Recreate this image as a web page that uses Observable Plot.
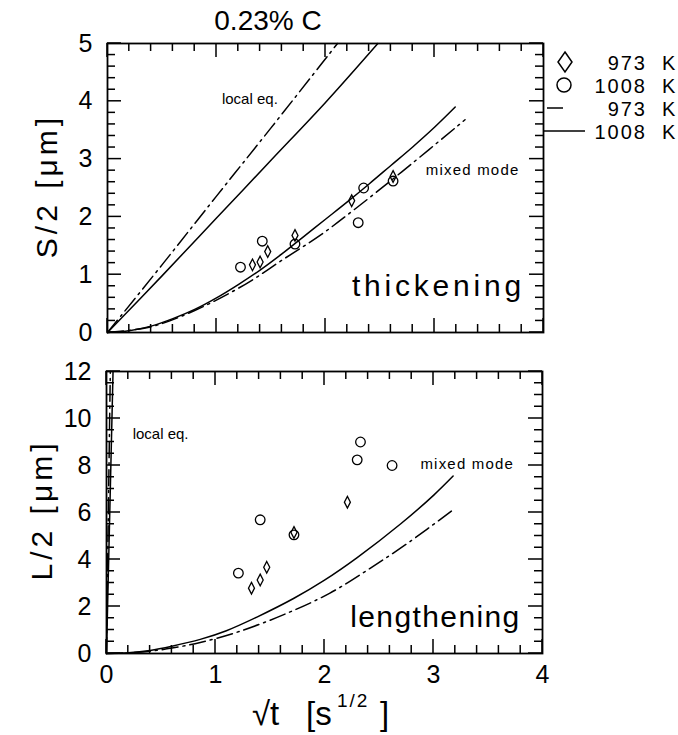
<!DOCTYPE html>
<html><head><meta charset="utf-8">
<script src="https://cdn.jsdelivr.net/npm/d3@7"></script>
<script src="https://cdn.jsdelivr.net/npm/@observablehq/plot@0.6"></script>
<style>
body{margin:0;background:#fff;}
#wrap{position:relative;width:678px;height:735px;background:#fff;font-family:"Liberation Sans",Arial,sans-serif;}
#wrap > * {position:absolute;left:0;}
</style></head><body><div id="wrap"></div>
<script>
// ---------- data ----------
const xMajorTicks = [0, 1, 2, 3, 4];
const sMajorTicks = [0, 1, 2, 3, 4, 5];
const lMajorTicks = [0, 2, 4, 6, 8, 10, 12];
const chartTitle = "0.23% C";
const legendTemps = ["973", "1008", "973", "1008"];

// thickening (S/2) model curves [sqrt(t), S/2]
const thickLocal1008 = [[0,0],[0.5,0.98],[1,1.98],[1.5,2.98],[2,3.98],[2.48,5]];
const thickLocal973  = [[0,0],[0.5,1.17],[1,2.36],[1.5,3.54],[2.11,5]];
const thickMixed1008 = [[0,0],[0.2,0.03],[0.4,0.11],[0.6,0.24],[0.8,0.4],[1.0,0.6],[1.2,0.83],[1.4,1.08],[1.6,1.36],[1.8,1.66],[2.0,1.96],[2.2,2.26],[2.4,2.57],[2.6,2.89],[2.8,3.21],[3.0,3.55],[3.19,3.9]];
const thickMixed973  = [[0,0],[0.4,0.1],[0.8,0.38],[1.26,0.83],[1.6,1.25],[1.95,1.68],[2.28,2.15],[2.7,2.78],[3.28,3.68]];
// thickening measurements
const thickCircles1008 = [[1.22,1.13],[1.42,1.58],[1.72,1.53],[2.30,1.9],[2.35,2.5],[2.62,2.62]];
const thickDiamonds973 = [[1.33,1.17],[1.40,1.22],[1.47,1.4],[1.72,1.68],[2.24,2.28],[2.62,2.7]];

// lengthening (L/2) model curves
const lengthLocal1008 = [[0,0],[0.01,2],[0.03,6],[0.06,12]];
const lengthLocal973  = [[0,0],[0.008,3],[0.02,7],[0.035,12]];
const lengthMixed1008 = [[0,0],[0.2,0.03],[0.4,0.13],[0.6,0.31],[0.86,0.6],[1.1,0.97],[1.38,1.55],[1.72,2.35],[2.0,3.12],[2.3,4.08],[2.7,5.52],[3.0,6.73],[3.18,7.55]];
const lengthMixed973  = [[0,0],[0.2,0.03],[0.4,0.1],[0.6,0.23],[0.86,0.47],[1.22,0.94],[1.65,1.7],[2.05,2.57],[2.41,3.6],[2.78,4.75],[3.17,6.08]];
// lengthening measurements
const lengthCircles1008 = [[1.21,3.42],[1.41,5.69],[1.72,5.05],[2.30,8.24],[2.33,9.0],[2.62,8.0]];
const lengthDiamonds973 = [[1.33,2.78],[1.41,3.13],[1.47,3.67],[1.72,5.15],[2.21,6.44]];

// annotations [x, y, text, anchor, size, letterSpacing]
const thickNotes = [[1.05,4.03,"local eq.","start",15,0],[2.92,2.81,"mixed mode","start",15,1.2],[3.83,0.8,"thickening","end",30,3.8]];
const lengthNotes = [[0.24,9.32,"local eq.","start",15,0],[2.88,8.04,"mixed mode","start",15,1.2],[3.8,1.55,"lengthening","end",30,1.4]];

// ---------- helpers ----------
const FONT = '"Liberation Sans", Arial, sans-serif';
const DASH = "16,5,2,5";
const tallDiamond = {
  draw(ctx, size) {
    const r = Math.sqrt(size / Math.PI);
    const w = r * 0.7, h = r * 1.35;
    ctx.moveTo(0, -h); ctx.lineTo(w, 0); ctx.lineTo(0, h); ctx.lineTo(-w, 0); ctx.closePath();
  }
};
function minorTicks(step, max, majors) {
  const out = [];
  for (let i = 0; i * step <= max + 1e-9; i++) {
    const v = Math.round(i * step * 1000) / 1000;
    if (majors.indexOf(v) < 0) out.push(v);
  }
  return out;
}
function curves(solidA, dashA, solidB, dashB) {
  const o = {x: d => d[0], y: d => d[1], stroke: "black", strokeWidth: 1.5, curve: "catmull-rom"};
  return [
    Plot.line(solidA, o), Plot.line(solidB, o),
    Plot.line(dashA, {...o, strokeDasharray: DASH}), Plot.line(dashB, {...o, strokeDasharray: DASH})
  ];
}
function points(circ, diam) {
  return [
    Plot.dot(circ, {x: d => d[0], y: d => d[1], r: 4.8, stroke: "black", strokeWidth: 1.3, fill: "none"}),
    Plot.dot(diam, {x: d => d[0], y: d => d[1], r: 4.3, symbol: tallDiamond, stroke: "black", strokeWidth: 1.3, fill: "none"})
  ];
}
function notes(arr) {
  return arr.map(n => Plot.text([n], {x: d => d[0], y: d => d[1], text: d => d[2], textAnchor: n[3], fontSize: n[4], fill: "black", fontFamily: FONT}));
}
function spaceNotes(svg, arr) {
  arr.forEach(n => {
    d3.select(svg).selectAll("text").filter(function () { return this.textContent === n[2]; })
      .attr("letter-spacing", n[5]);
  });
}

const wrap = document.getElementById("wrap");
const xMinor = minorTicks(0.2, 4, xMajorTicks);
const sMinor = minorTicks(0.2, 5, sMajorTicks);
const lMinor = minorTicks(0.5, 12, lMajorTicks);

// ---------- top panel ----------
const topPlot = Plot.plot({
  width: 678, height: 345,
  marginTop: 43, marginBottom: 13, marginLeft: 107, marginRight: 135,
  style: {fontFamily: FONT, background: "transparent", color: "black"},
  x: {domain: [0, 4], axis: null},
  y: {domain: [0, 5], axis: null},
  marks: [
    Plot.frame({stroke: "black", strokeWidth: 1.8}),
    Plot.axisY({ticks: sMajorTicks, tickSize: 0, tickPadding: 15, fontSize: 25, tickFormat: d => String(d), label: null}),
    ...curves(thickLocal1008, thickLocal973, thickMixed1008, thickMixed973),
    ...points(thickCircles1008, thickDiamonds973),
    ...notes(thickNotes)
  ]
});
spaceNotes(topPlot, thickNotes);
topPlot.style.top = "0px";
wrap.appendChild(topPlot);

// ---------- bottom panel ----------
const botPlot = Plot.plot({
  width: 678, height: 385,
  marginTop: 21, marginBottom: 82, marginLeft: 106, marginRight: 136,
  style: {fontFamily: FONT, background: "transparent", color: "black"},
  x: {domain: [0, 4], axis: null},
  y: {domain: [0, 12], axis: null},
  marks: [
    Plot.frame({stroke: "black", strokeWidth: 1.8}),
    Plot.axisY({ticks: lMajorTicks, tickSize: 0, tickPadding: 15, fontSize: 25, tickFormat: d => String(d), label: null}),
    Plot.axisX({ticks: xMajorTicks, tickSize: 0, tickPadding: 12, fontSize: 25, tickFormat: d => String(d), label: null}),
    ...curves(lengthLocal1008, lengthLocal973, lengthMixed1008, lengthMixed973),
    ...points(lengthCircles1008, lengthDiamonds973),
    ...notes(lengthNotes)
  ]
});
spaceNotes(botPlot, lengthNotes);
botPlot.style.top = "350px";
wrap.appendChild(botPlot);

// ---------- overlay: inward frame ticks (placed with the plots' own scales), titles, legend ----------
const ov = d3.create("svg").attr("width", 678).attr("height", 735)
  .style("top", "0px").style("pointer-events", "none")
  .attr("font-family", FONT);

function drawTicks(plot, offsetY, frameBox, xMaj, xMin, yMaj, yMin) {
  const sx = plot.scale("x"), sy = plot.scale("y");
  const fx = v => (sx && typeof sx.apply === "function") ? sx.apply(v) : frameBox.x0 + (frameBox.x1 - frameBox.x0) * v / frameBox.xMax;
  const fy = v => (sy && typeof sy.apply === "function") ? sy.apply(v) : frameBox.y0 - (frameBox.y0 - frameBox.y1) * v / frameBox.yMax;
  const g = ov.append("g").attr("fill", "black");
  const x0 = frameBox.x0, x1 = frameBox.x1, y0 = frameBox.y0 + offsetY, y1 = frameBox.y1 + offsetY;
  const tw = 1.5;
  for (const [vals, len] of [[xMaj, 14], [xMin, 8]]) for (const v of vals) {
    const X = fx(v);
    g.append("rect").attr("x", X - tw / 2).attr("y", y0 - len).attr("width", tw).attr("height", len);
    g.append("rect").attr("x", X - tw / 2).attr("y", y1).attr("width", tw).attr("height", len);
  }
  for (const [vals, len] of [[yMaj, 14], [yMin, 8]]) for (const v of vals) {
    const Y = fy(v) + offsetY;
    g.append("rect").attr("x", x0).attr("y", Y - tw / 2).attr("width", len).attr("height", tw);
    g.append("rect").attr("x", x1 - len).attr("y", Y - tw / 2).attr("width", len).attr("height", tw);
  }
}
drawTicks(topPlot, 0, {x0: 107, x1: 543, y0: 332, y1: 43, xMax: 4, yMax: 5}, xMajorTicks, xMinor, sMajorTicks, sMinor);
drawTicks(botPlot, 350, {x0: 106, x1: 542, y0: 303, y1: 21, xMax: 4, yMax: 12}, xMajorTicks, xMinor, lMajorTicks, lMinor);

ov.append("text").attr("x", 268).attr("y", 30).attr("text-anchor", "middle").attr("font-size", 28).text(chartTitle);

// y-axis titles
ov.append("text").attr("transform", "translate(57,186) rotate(-90)").attr("text-anchor", "middle")
  .attr("font-size", 30).attr("letter-spacing", 4).text("S/2  [μm]");
ov.append("text").attr("transform", "translate(52,510) rotate(-90)").attr("text-anchor", "middle")
  .attr("font-size", 30).attr("letter-spacing", 4).text("L/2  [μm]");

// x-axis title
ov.append("text").attr("x", 252).attr("y", 725).attr("font-size", 33).text("√t");
ov.append("text").attr("x", 306).attr("y", 725).attr("font-size", 33).text("[s");
ov.append("text").attr("x", 337).attr("y", 707).attr("font-size", 19).attr("letter-spacing", 2).text("1/2");
ov.append("text").attr("x", 380).attr("y", 725).attr("font-size", 33).text("]");

// legend
const rows = [62, 85, 108, 131];
const dg = ov.append("g").attr("stroke", "black").attr("fill", "none").attr("stroke-width", 1.5);
dg.append("path").attr("d", `M565,${rows[0]-10}L572,${rows[0]}L565,${rows[0]+10}L558,${rows[0]}Z`);
dg.append("circle").attr("cx", 564).attr("cy", rows[1]).attr("r", 7);
dg.append("path").attr("d", `M547,${rows[2]}H563`);
dg.append("path").attr("d", `M543,${rows[3]}H585`);
legendTemps.forEach((t, i) => {
  ov.append("text").attr("x", 647).attr("y", rows[i] + 7.5).attr("text-anchor", "end").attr("font-size", 20)
    .attr("letter-spacing", 2).text(t);
  ov.append("text").attr("x", 662).attr("y", rows[i] + 7.5).attr("font-size", 20).text("K");
});
wrap.appendChild(ov.node());
</script></body></html>
